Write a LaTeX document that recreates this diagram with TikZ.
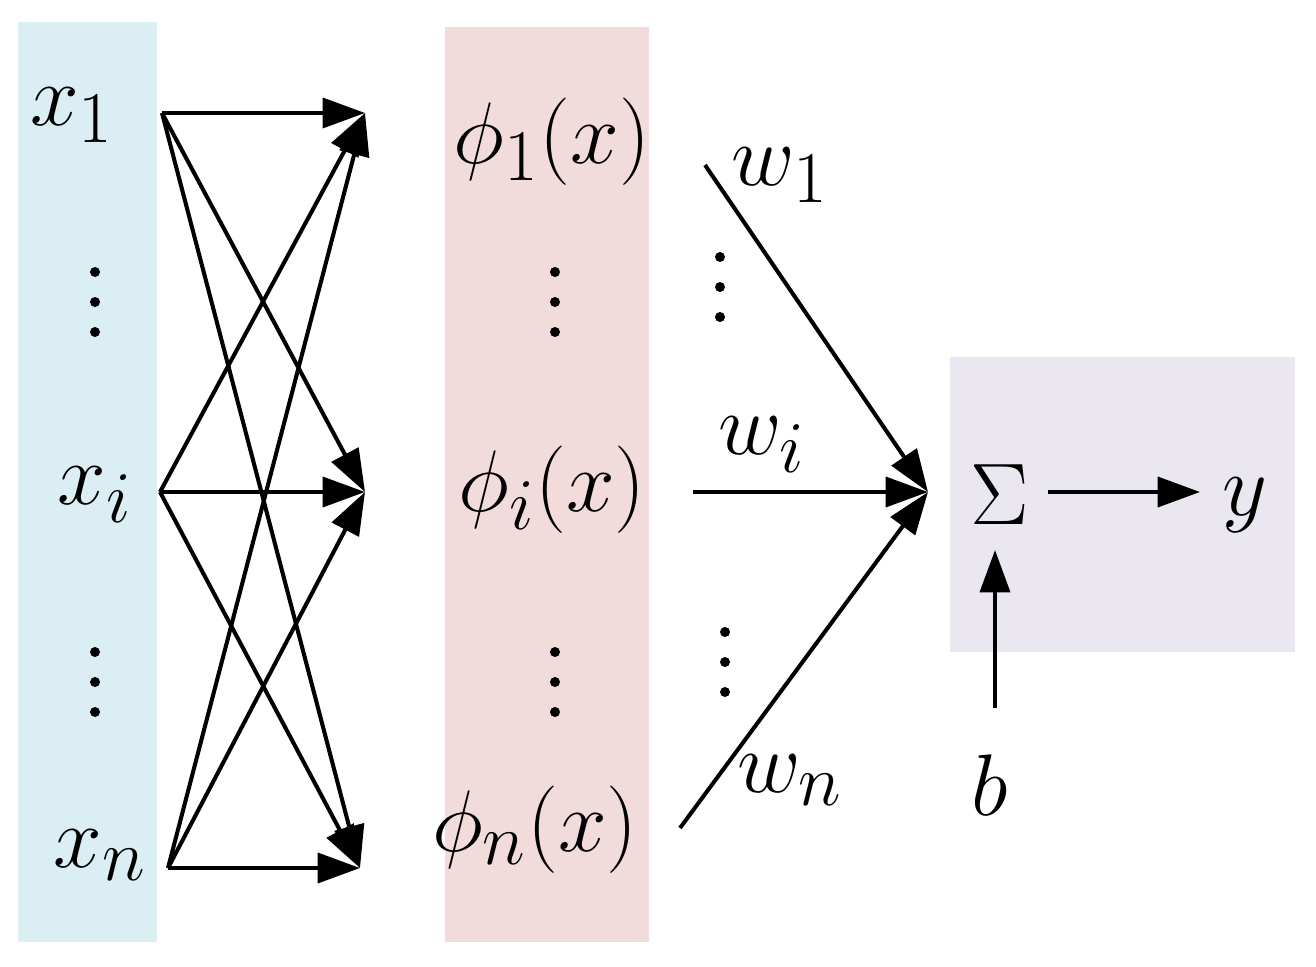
\documentclass[tikz,border=0pt]{standalone}
\usetikzlibrary{arrows.meta}
\newcommand{\BigTxt}[1]{\scalebox{2}{\Huge$#1$}}
\begin{document}
\begin{tikzpicture}[x=0.02cm,y=-0.02cm,
  ln/.style={line width=2.3pt},
  ar/.style={ln,-{Triangle[length=0.85cm,width=0.6cm]}},
  lb/.style={inner sep=0pt},
  vd/.pic={\fill (0,-30) circle (5); \fill (0,0) circle (5); \fill (0,30) circle (5);}]
\useasboundingbox (0,0) rectangle (1316,967);
\fill[fill={rgb,255:red,219;green,238;blue,244}] (18,22) rectangle (157,942);
\fill[fill={rgb,255:red,242;green,220;blue,219}] (445,27) rectangle (649,942);
\fill[fill={rgb,255:red,234;green,231;blue,240}] (950,357) rectangle (1295,652);
% inputs
\node[lb] (x1) at (72,115) {\BigTxt{x_1}};
\pic at (95,302) {vd};
\node[lb] (xi) at (95,495) {\BigTxt{x_i}};
\pic at (95,682) {vd};
\node[lb] (xn) at (100,855) {\BigTxt{x_n}};
\coordinate (s1) at (162,113);
\coordinate (si) at (160,492);
\coordinate (sn) at (168,868);
\coordinate (t1) at (365,113);
\coordinate (ti) at (365,492);
\coordinate (tn) at (360,868);
\foreach \s in {s1,si,sn}{\foreach \t in {t1,ti,tn}{\draw[ar] (\s) -- (\t);}}
% phi
\node[lb] (p1) at (552,142) {\BigTxt{\phi_1(x)}};
\pic at (555,302) {vd};
\node[lb] (pi) at (552,490) {\BigTxt{\phi_i(x)}};
\pic at (555,682) {vd};
\node[lb] (pn) at (535,830) {\BigTxt{\phi_n(x)}};
\coordinate (a1) at (705,165);
\coordinate (ai) at (693,492);
\coordinate (an) at (680,828);
\coordinate (sg) at (928,492);
\draw[ar] (a1) -- (sg);
\draw[ar] (ai) -- (sg);
\draw[ar] (an) -- (sg);
\node[lb] (w1) at (780,175) {\BigTxt{w_1}};
\pic at (720,287) {vd};
\node[lb] (wi) at (762,445) {\BigTxt{w_i}};
\pic at (725,662) {vd};
\node[lb] (wn) at (790,780) {\BigTxt{w_n}};
% sum
\node[lb] (S) at (1000,495) {\BigTxt{\Sigma}};
\node[lb] (y) at (1245,505) {\BigTxt{y}};
\node[lb] (b) at (990,785) {\BigTxt{b}};
\coordinate (so) at (1048,492);
\coordinate (yi) at (1200,492);
\coordinate (bo) at (995,708);
\coordinate (si2) at (995,550);
\draw[ar] (so) -- (yi);
\draw[ar] (bo) -- (si2);
\end{tikzpicture}
\end{document}
